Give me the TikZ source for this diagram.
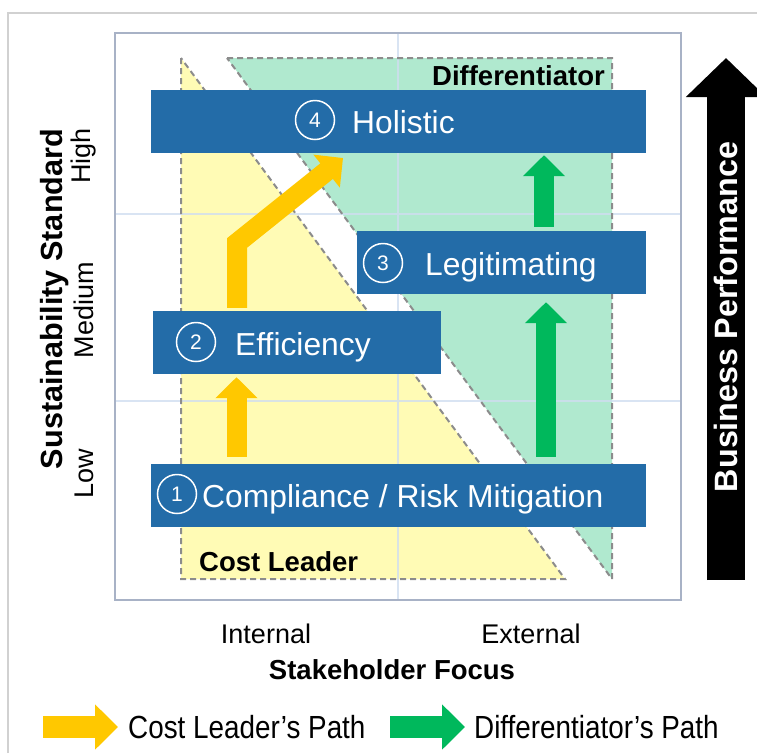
\documentclass[tikz,border=0pt]{standalone}
\usepackage{fontspec}
\setmainfont{Liberation Sans}
\usetikzlibrary{positioning, calc, arrows.meta}

\definecolor{barblue}{RGB}{35,108,168}
\definecolor{costyel}{RGB}{255,251,181}
\definecolor{difgreen}{RGB}{176,233,207}
\definecolor{arryel}{RGB}{255,200,0}
\definecolor{arrgreen}{RGB}{0,184,92}
\definecolor{gridblue}{RGB}{208,221,240}
\definecolor{framegray}{RGB}{168,178,198}

\newcommand{\fs}[1]{\fontsize{#1}{#1}\selectfont}

\begin{document}
\begin{tikzpicture}[x=1pt, y=-1pt,
	bar/.style={fill=barblue, minimum width=#1, minimum height=63pt, inner sep=0pt},
	num/.style={circle, draw=white, line width=1.5pt, minimum size=39pt, inner sep=0pt, text=white, font=\fs{21}},
	bartxt/.style={anchor=base west, inner sep=0pt, text=white, font=\fs{31.8}},
	zone/.style={draw=black!45, line width=2pt, dash pattern=on 6pt off 4pt},
	yarr/.style={arryel, line width=20pt, -{Triangle[width=41pt,length=21pt]}},
	garr/.style={arrgreen, line width=20pt, -{Triangle[width=41pt,length=21pt]}},
	legarr/.style={line width=22pt, -{Triangle[width=44pt,length=23pt]}},
	lbl/.style={inner sep=0pt, font=\fs{27}},
	hdr/.style={inner sep=0pt, font=\fs{27.5}\bfseries},
	legtxt/.style={inner sep=0pt, anchor=west, font=\fs{32}}
	]
	\clip (0,0) rectangle (757,753);
	\draw[black!18, line width=2pt] (8,753) -- (8,13) -- (757,13);
	
	%Zonas:
	\fill[costyel]  (181,58) -- (181,579) -- (565,579) -- cycle;
	\fill[difgreen] (227,58) -- (612,58) -- (612,579) -- cycle;
	\draw[gridblue, line width=2pt, opacity=.8] (398,33) -- (398,600) (115,214) -- (681,214) (115,401) -- (681,401);
	\draw[zone] (181,58) -- (181,579) -- (565,579) -- cycle;
	\draw[zone] (227,58) -- (612,58) -- (612,579) -- cycle;
	\draw[framegray, line width=2pt] (115,33) rectangle (681,600);
	\node[hdr, anchor=base west] (cost) at (199,571) {Cost Leader};
	\node[hdr, anchor=base east] (diff) at (605,85) {Differentiator};
	
	%Niveis:
	\node[bar=495pt] (holistic) at (398.5,121.5) {};
	\node[bar=289pt] (legit)    at (501.5,262.5) {};
	\node[bar=288pt] (effic)    at (297,342.5)   {};
	\node[bar=495pt] (compl)    at (398.5,495.5) {};
	\node[num] (n4) at (315,120) {4};
	\node[bartxt] (t4) at (352,133) {Holistic};
	\node[num] (n3) at (383,263) {3};
	\node[bartxt] (t3) at (425,275) {Legitimating};
	\node[num] (n2) at (196,342) {2};
	\node[bartxt] (t2) at (235,355) {Efficiency};
	\node[num] (n1) at (177,494) {1};
	\node[bartxt] (t1) at (202,507) {Compliance / Risk Mitigation};
	
	%Caminhos:
	\coordinate (ya) at (236.5,0);
	\coordinate (ybend) at (237,243);
	\coordinate (ytip) at (343,158);
	\coordinate (ga) at (546,0);
	\coordinate (gb) at (544,0);
	\draw[yarr, shorten <=7pt, shorten >=3pt] (compl.north -| ya) -- (effic.south -| ya);
	\draw[yarr, shorten <=3pt] (effic.north -| ybend) -- (ybend) -- (ytip);
	\draw[garr, shorten <=7pt, shorten >=8pt] (compl.north -| ga) -- (legit.south -| ga);
	\draw[garr, shorten <=4pt, shorten >=2pt] (legit.north -| gb) -- (holistic.south -| gb);
	
	%Desempenho:
	\coordinate (bpfoot) at (726,580);
	\coordinate (bptip) at (726,58);
	\draw[line width=38pt, -{Triangle[width=78pt,length=39pt]}] (bpfoot) -- (bptip);
	\node[rotate=90, inner sep=0pt, text=white, font=\fs{32.3}\bfseries] (bp) at (726,317) {Business Performance};
	
	%Eixos:
	\node[hdr, rotate=90, font=\fs{30.6}\bfseries] (sust) at (55,299) {Sustainability Standard};
	\node[lbl, rotate=90] (high) at (84,156) {High};
	\node[lbl, rotate=90] (med)  at (84,310) {Medium};
	\node[lbl, rotate=90] (low)  at (84,474) {Low};
	\node[lbl] (int) at (266,634) {Internal};
	\node[lbl] (ext) at (531,634) {External};
	\node[hdr] (focus) at (392,670) {Stakeholder Focus};
	
	%Legenda:
	\coordinate (l1a) at (43,727);
	\coordinate (l1b) at (118,727);
	\coordinate (l2a) at (390,727);
	\coordinate (l2b) at (465,727);
	\draw[legarr, arryel] (l1a) -- (l1b);
	\node[legtxt, right=10pt of l1b] (l1t) {\scalebox{.87}[1]{Cost Leader’s Path}};
	\draw[legarr, arrgreen] (l2a) -- (l2b);
	\node[legtxt, right=9pt of l2b] (l2t) {\scalebox{.87}[1]{Differentiator’s Path}};
\end{tikzpicture}
\end{document}
